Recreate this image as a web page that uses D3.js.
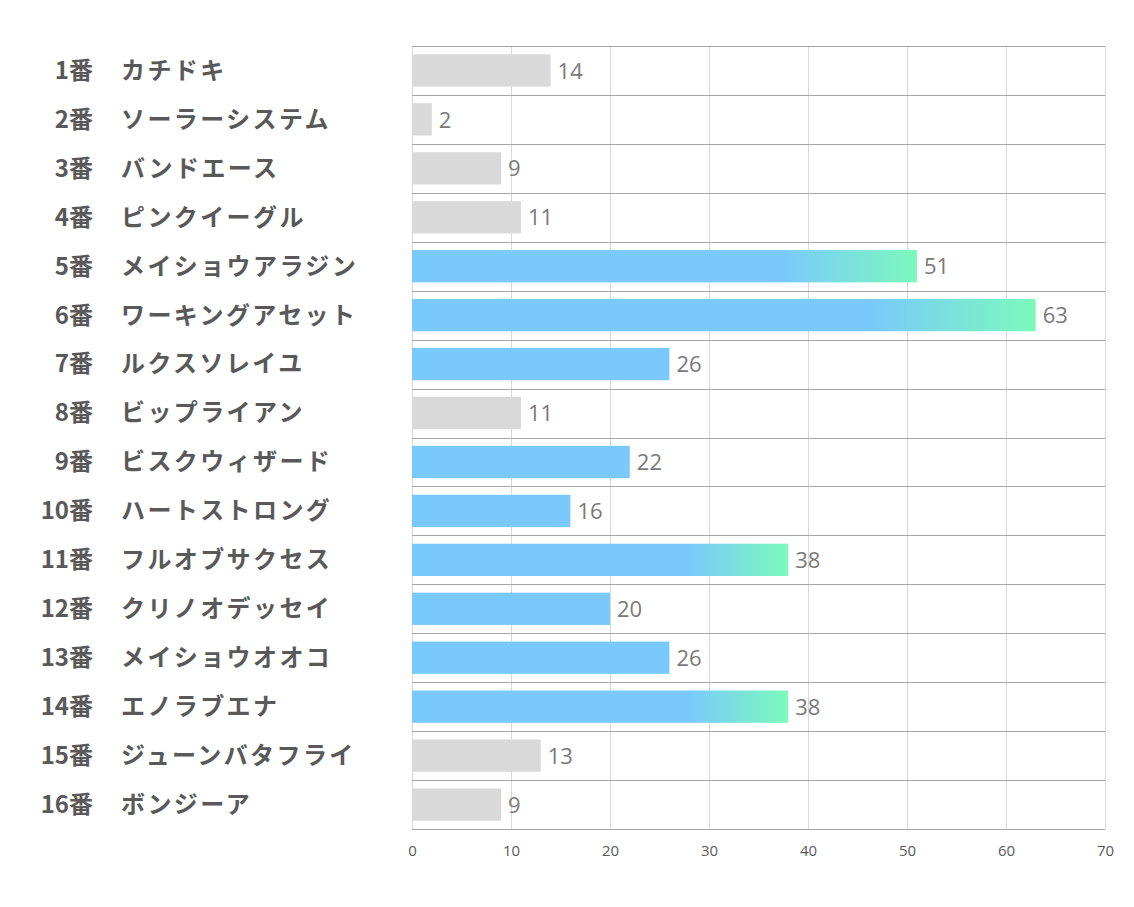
<!DOCTYPE html>
<html><head><meta charset="utf-8">
<script src="https://cdn.jsdelivr.net/npm/d3@7"></script>
<style>body{margin:0;background:#fff;} svg{display:block;}</style>
</head><body>
<svg id="chart" width="1134" height="907"></svg>
<script>
const numbers = ["1番","2番","3番","4番","5番","6番","7番","8番","9番","10番","11番","12番","13番","14番","15番","16番"];
const names = ["カチドキ","ソーラーシステム","バンドエース","ピンクイーグル","メイショウアラジン","ワーキングアセット","ルクスソレイユ","ビップライアン","ビスクウィザード","ハートストロング","フルオブサクセス","クリノオデッセイ","メイショウオオコ","エノラブエナ","ジューンバタフライ","ボンジーア"];
const values = [14,2,9,11,51,63,26,11,22,16,38,20,26,38,13,9];
const kinds = ["grey","grey","grey","grey","grad","grad","blue","grey","blue","blue","grad","blue","blue","grad","grey","grey"];
const xTicks = [0,10,20,30,40,50,60,70];

(function(){
const svg = d3.select("#chart");
const pL = 412, pR = 1105, pT = 46, pB = 829;
const x = d3.scaleLinear().domain([0,70]).range([pL,pR]);
const y = d3.scaleBand().domain(d3.range(values.length)).range([pT,pB]).paddingInner(0.34).paddingOuter(0.17);
const rows = d3.scaleLinear().domain([0,values.length]).range([pT,pB]);

const defs = svg.append("defs");
const g = defs.append("linearGradient").attr("id","grad").attr("x1","0%").attr("x2","100%").attr("y1","0%").attr("y2","0%");
g.append("stop").attr("offset","0%").attr("stop-color","#79C9FD");
g.append("stop").attr("offset","73%").attr("stop-color","#79C9FD");
g.append("stop").attr("offset","100%").attr("stop-color","#7CF9BC");
const fills = {grey:"#D9D9D9", blue:"#79C9FD", grad:"url(#grad)"};

svg.append("g").selectAll("line").data(xTicks).join("line")
  .attr("x1",d=>Math.round(x(d))+0.5).attr("x2",d=>Math.round(x(d))+0.5).attr("y1",pT).attr("y2",pB)
  .attr("stroke","#D9D9D9").attr("stroke-width",1);

svg.append("g").selectAll("line").data(d3.range(values.length+1)).join("line")
  .attr("x1",pL).attr("x2",pR).attr("y1",d=>Math.round(rows(d))+0.5).attr("y2",d=>Math.round(rows(d))+0.5)
  .attr("stroke","#A6A6A6").attr("stroke-width",1);

svg.append("g").selectAll("rect").data(values).join("rect")
  .attr("x",x(0)).attr("y",(d,i)=>y(i)).attr("width",d=>x(d)-x(0)).attr("height",y.bandwidth())
  .attr("fill",(d,i)=>fills[kinds[i]]);

svg.append("g").selectAll("text").data(values).join("text")
  .attr("x",d=>x(d)+7).attr("y",(d,i)=>y(i)+y.bandwidth()/2).attr("dy","0.37em")
  .attr("font-family","'Open Sans','Noto Sans',sans-serif").attr("font-size",22).attr("fill","#7A7A7A")
  .text(d=>d);

const lab = svg.append("g").attr("font-family","'Noto Sans CJK JP',sans-serif").attr("font-weight","bold").attr("font-size",24).attr("fill","#595959");
lab.selectAll("text.num").data(numbers).join("text").attr("class","num")
  .attr("x",93).attr("y",(d,i)=>y(i)+y.bandwidth()/2).attr("dy","0.35em").attr("text-anchor","end").text(d=>d);
lab.selectAll("text.name").data(names).join("text").attr("class","name")
  .attr("x",121).attr("y",(d,i)=>y(i)+y.bandwidth()/2).attr("dy","0.35em").attr("text-anchor","start")
  .attr("letter-spacing","2.4px").text(d=>d);

const ax = svg.append("g").attr("transform",`translate(0,${pB})`)
  .call(d3.axisBottom(x).tickValues(xTicks).tickSize(0).tickPadding(16));
ax.select(".domain").remove();
ax.selectAll("text").attr("font-family","'Open Sans','Noto Sans',sans-serif").attr("font-size",15).attr("fill","#595959");
})();
</script>
</body></html>
